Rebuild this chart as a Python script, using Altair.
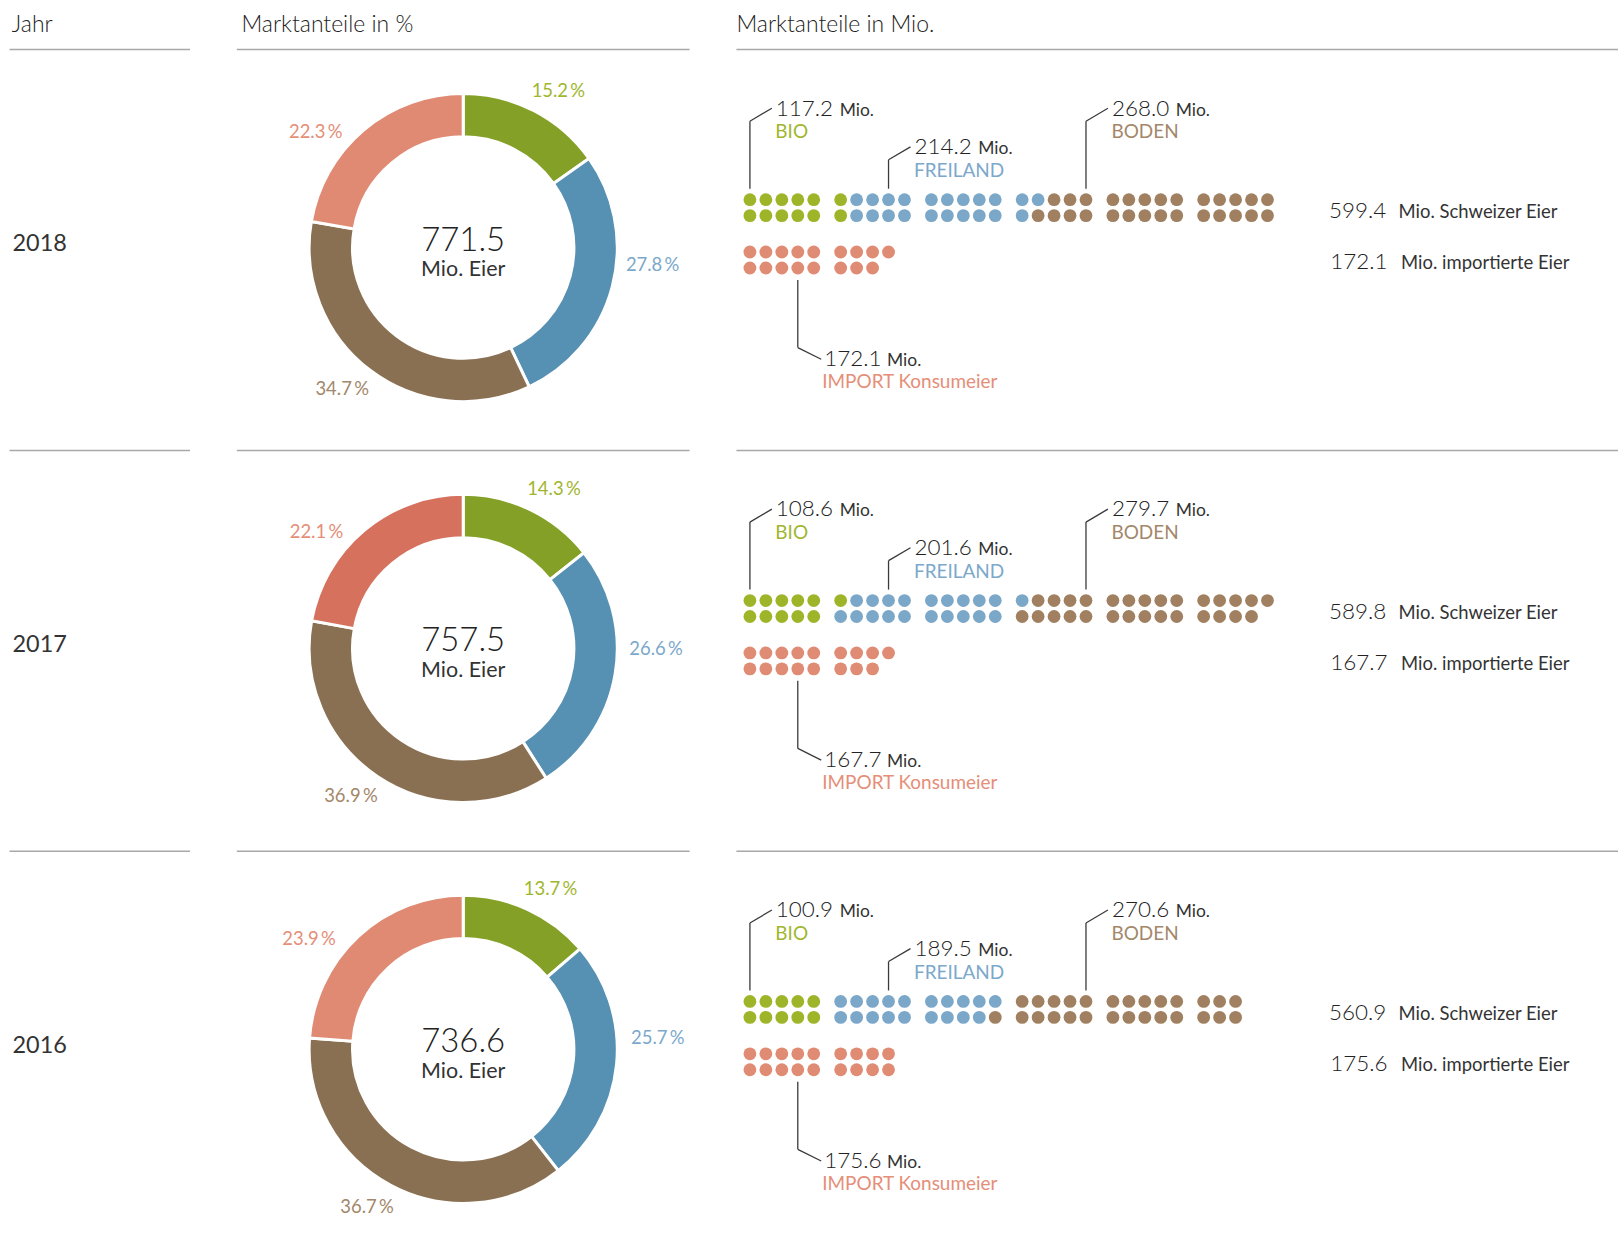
import math
import altair as alt
import pandas as pd
import numpy as np

# ---------------- data ----------------
years = ["2018", "2017", "2016"]
categories = ["BIO", "FREILAND", "BODEN", "IMPORT"]
category_names = ["BIO", "FREILAND", "BODEN", "IMPORT Konsumeier"]
mio_bio = [117.2, 108.6, 100.9]
mio_freiland = [214.2, 201.6, 189.5]
mio_boden = [268.0, 279.7, 270.6]
mio_import = [172.1, 167.7, 175.6]
pct_bio = [15.2, 14.3, 13.7]
pct_freiland = [27.8, 26.6, 25.7]
pct_boden = [34.7, 36.9, 36.7]
pct_import = [22.3, 22.1, 23.9]
total_mio = [771.5, 757.5, 736.6]
swiss_mio = [599.4, 589.8, 560.9]
imported_mio = [172.1, 167.7, 175.6]
header_labels = ["Jahr", "Marktanteile in %", "Marktanteile in Mio."]
MIO_PER_DOT = 10

# ---------------- style ----------------
FONT = "Lato"
LIGHT, REG = 300, 400
TXT = "#222222"
TXT2 = "#333333"
LINE = "#a8a8a8"
ARC_COL = {"BIO": "#84a027", "FREILAND": "#5690b3", "BODEN": "#8a7052", "IMPORT": "#e08a73"}
ARC_COL_OVERRIDE = {("2017", "IMPORT"): "#d6715d"}
DOT_COL = {"BIO": "#9eb52a", "FREILAND": "#7ba7c8", "BODEN": "#a08060", "IMPORT": "#e08b74"}
LBL_COL = {"BIO": "#9fb62e", "FREILAND": "#7ba8cb", "BODEN": "#a3876a", "IMPORT": "#e58e78"}

# ---------------- layout ----------------
W_YEAR, W_DONUT, W_DOTS = 181, 454, 884
GAP = 45
H_HEAD = 47
ROW_H = [401, 401, 390]
CY = 198.5
R_OUT, R_IN = 154.5, 111
LABEL_R = 186
LABEL_NUDGE = {"BIO": (10, 8), "FREILAND": (10, -30), "BODEN": (-9, -6), "IMPORT": (-28, 26)}
X0, DX, GX, DY = 13.5, 16, 91, 16
Y_SWISS, Y_IMP = 150.5, 203
TOP_ANCHOR = {"BIO": (0, 71.8), "FREILAND": (8, 110.5), "BODEN": (19, 71.8)}
IMP_ANCHOR = (3, 298.8)


def col_x(col):
    return X0 + (col % 5) * DX + (col // 5) * GX


def top_rule(w):
    return alt.Chart(pd.DataFrame({"a": [0]})).mark_rule(
        color=LINE, strokeWidth=1.5
    ).encode(x=alt.value(0), x2=alt.value(w), y=alt.value(0))


def header_panel(text, w, dx):
    return alt.Chart(pd.DataFrame({"h": [text]})).mark_text(
        font=FONT, fontWeight=LIGHT, fontSize=23, align="left", baseline="middle", color=TXT
    ).encode(x=alt.value(dx), y=alt.value(23), text="h:N").properties(width=w, height=H_HEAD)


def year_panel(i, H):
    t = alt.Chart(pd.DataFrame({"year": [years[i]]})).mark_text(
        font=FONT, fontWeight=REG, fontSize=23.5, align="left", baseline="alphabetic", color=TXT2
    ).encode(x=alt.value(3), y=alt.value(202), text="year:N")
    return alt.layer(t, top_rule(W_YEAR)).properties(width=W_YEAR, height=H)


def donut_panel(i, H):
    vals = [mio_bio[i], mio_freiland[i], mio_boden[i], mio_import[i]]
    pcts = [pct_bio[i], pct_freiland[i], pct_boden[i], pct_import[i]]
    df = pd.DataFrame({"cat": categories, "value": vals, "pct": pcts})
    df["t1"] = df["value"].cumsum()
    df["t0"] = df["t1"] - df["value"]
    df["cx"] = 0.0
    df["cy"] = 0.0
    df["color"] = [ARC_COL_OVERRIDE.get((years[i], c), ARC_COL[c]) for c in categories]
    df["lcolor"] = [LBL_COL[c] for c in categories]
    tot = float(df["value"].sum())
    lx, ly = [], []
    for t0, v, c in zip(df["t0"], df["value"], categories):
        mid = (t0 + v / 2) / tot * 2 * math.pi
        ndx, ndy = LABEL_NUDGE[c]
        lx.append(LABEL_R * math.sin(mid) + ndx)
        ly.append(-LABEL_R * math.cos(mid) + ndy)
    df["lx"], df["ly"] = lx, ly
    df["label"] = [f"{p:.1f}\u2009%" for p in pcts]

    xs = alt.Scale(domain=[-W_DONUT / 2, W_DONUT / 2], nice=False, zero=False)
    ys = alt.Scale(domain=[-CY, H - CY], reverse=True, nice=False, zero=False)

    base = alt.Chart(df)
    arc = base.mark_arc(innerRadius=R_IN, outerRadius=R_OUT, stroke="white", strokeWidth=3).encode(
        theta=alt.Theta("t0:Q", scale=alt.Scale(domain=[0, tot], range=[0, 2 * math.pi])),
        theta2="t1:Q",
        color=alt.Color("color:N", scale=None),
        x=alt.X("cx:Q", scale=xs, axis=None),
        y=alt.Y("cy:Q", scale=ys, axis=None),
    )
    lbl = base.mark_text(font=FONT, fontWeight=REG, fontSize=18.5, align="center", baseline="middle").encode(
        x=alt.X("lx:Q", scale=xs, axis=None),
        y=alt.Y("ly:Q", scale=ys, axis=None),
        text="label:N",
        color=alt.Color("lcolor:N", scale=None),
    )
    cdf = pd.DataFrame({"total": [f"{total_mio[i]:.1f}"], "unit": ["Mio. Eier"], "cx": [0.0], "cy": [0.0]})
    ctr = alt.Chart(cdf).mark_text(font=FONT, fontWeight=LIGHT, fontSize=33, align="center",
                                   baseline="alphabetic", color=TXT, dy=3).encode(
        x=alt.X("cx:Q", scale=xs, axis=None), y=alt.Y("cy:Q", scale=ys, axis=None), text="total:N")
    unit = alt.Chart(cdf).mark_text(font=FONT, fontWeight=REG, fontSize=21.5, align="center",
                                    baseline="alphabetic", color=TXT2, dy=29).encode(
        x=alt.X("cx:Q", scale=xs, axis=None), y=alt.Y("cy:Q", scale=ys, axis=None), text="unit:N")
    return alt.layer(arc, lbl, ctr, unit, top_rule(W_DONUT)).properties(width=W_DONUT, height=H)


def dots_panel(i, H):
    rows = []
    k = 0
    for cat, vals in zip(categories[:3], [mio_bio, mio_freiland, mio_boden]):
        for _ in range(int(round(vals[i] / MIO_PER_DOT))):
            rows.append((cat, k, "swiss"))
            k += 1
    for j in range(int(round(mio_import[i] / MIO_PER_DOT))):
        rows.append(("IMPORT", j, "import"))
    d = pd.DataFrame(rows, columns=["cat", "k", "block"])
    d["x"] = (d["k"] // 2).map(col_x)
    d["y"] = np.where(d["block"] == "swiss", Y_SWISS, Y_IMP) + (d["k"] % 2) * DY
    d["color"] = d["cat"].map(DOT_COL)

    xs = alt.Scale(domain=[0, W_DOTS], nice=False, zero=False)
    ys = alt.Scale(domain=[0, H], reverse=True, nice=False, zero=False)

    pts = alt.Chart(d).mark_circle(size=165, opacity=1).encode(
        x=alt.X("x:Q", scale=xs, axis=None),
        y=alt.Y("y:Q", scale=ys, axis=None),
        color=alt.Color("color:N", scale=None),
    )

    lead = []
    for cat, name, vals in zip(categories[:3], category_names[:3], [mio_bio, mio_freiland, mio_boden]):
        col, elbow = TOP_ANCHOR[cat]
        xv = col_x(col)
        lead.append(dict(xv=xv, y1=Y_SWISS - 11, y2=elbow, xd=xv + 22, yd=elbow - 13,
                         tx=xv + 26, tyn=elbow - 5.6, txm=xv + 26 + 64, txc=xv + 25.5, tyc=elbow + 17,
                         num=f"{vals[i]:.1f}", name=name, ccol=LBL_COL[cat], mio="Mio."))
    col, elbow = IMP_ANCHOR
    xv = col_x(col)
    lead.append(dict(xv=xv, y1=Y_IMP + DY + 12, y2=elbow, xd=xv + 23.5, yd=elbow + 11.7,
                     tx=xv + 26.5, tyn=elbow + 18.7, txm=xv + 26.5 + 63, txc=xv + 24.5, tyc=elbow + 41,
                     num=f"{mio_import[i]:.1f}", name=category_names[3], ccol=LBL_COL["IMPORT"], mio="Mio."))
    L = pd.DataFrame(lead)
    lb = alt.Chart(L)
    vline = lb.mark_rule(color="#3a3a3a", strokeWidth=1.3).encode(
        x=alt.X("xv:Q", scale=xs, axis=None), y=alt.Y("y1:Q", scale=ys, axis=None), y2="y2:Q")
    dline = lb.mark_rule(color="#3a3a3a", strokeWidth=1.3).encode(
        x=alt.X("xv:Q", scale=xs, axis=None), x2="xd:Q",
        y=alt.Y("y2:Q", scale=ys, axis=None), y2="yd:Q")
    num = lb.mark_text(font=FONT, fontWeight=LIGHT, fontSize=22.5, align="left", baseline="alphabetic",
                       color=TXT).encode(
        x=alt.X("tx:Q", scale=xs, axis=None), y=alt.Y("tyn:Q", scale=ys, axis=None), text="num:N")
    mio = lb.mark_text(font=FONT, fontWeight=REG, fontSize=17.5, align="left", baseline="alphabetic",
                       color=TXT2).encode(
        x=alt.X("txm:Q", scale=xs, axis=None), y=alt.Y("tyn:Q", scale=ys, axis=None), text="mio:N")
    nm = lb.mark_text(font=FONT, fontWeight=REG, fontSize=19, align="left", baseline="alphabetic").encode(
        x=alt.X("txc:Q", scale=xs, axis=None), y=alt.Y("tyc:Q", scale=ys, axis=None), text="name:N",
        color=alt.Color("ccol:N", scale=None))

    R = pd.DataFrame({
        "nx": [594.3, 595.5], "lx": [664, 666.5], "y": [168.8, 220.5],
        "num": [f"{swiss_mio[i]:.1f}", f"{imported_mio[i]:.1f}"],
        "lab": ["Mio. Schweizer Eier", "Mio. importierte Eier"],
    })
    rn = alt.Chart(R).mark_text(font=FONT, fontWeight=LIGHT, fontSize=22.5, align="left", baseline="alphabetic",
                                color=TXT).encode(
        x=alt.X("nx:Q", scale=xs, axis=None), y=alt.Y("y:Q", scale=ys, axis=None), text="num:N")
    rl = alt.Chart(R).mark_text(font=FONT, fontWeight=REG, fontSize=18.5, align="left", baseline="alphabetic",
                                color=TXT2).encode(
        x=alt.X("lx:Q", scale=xs, axis=None), y=alt.Y("y:Q", scale=ys, axis=None), text="lab:N")

    return alt.layer(pts, vline, dline, num, mio, nm, rn, rl, top_rule(W_DOTS)).properties(
        width=W_DOTS, height=H)


header = alt.hconcat(
    header_panel(header_labels[0], W_YEAR, 2.4),
    header_panel(header_labels[1], W_DONUT, 6.6),
    header_panel(header_labels[2], W_DOTS, 4),
    spacing=GAP,
)
rows = [
    alt.hconcat(year_panel(i, ROW_H[i]), donut_panel(i, ROW_H[i]), dots_panel(i, ROW_H[i]), spacing=GAP)
    for i in range(3)
]

chart = alt.vconcat(header, *rows, spacing=0).properties(
    padding={"left": 8.5, "top": 0, "right": 0, "bottom": 0}
).configure(font=FONT, background="white").configure_view(stroke=None)

chart.save("out.html", embed_options={"renderer": "svg", "actions": False})
